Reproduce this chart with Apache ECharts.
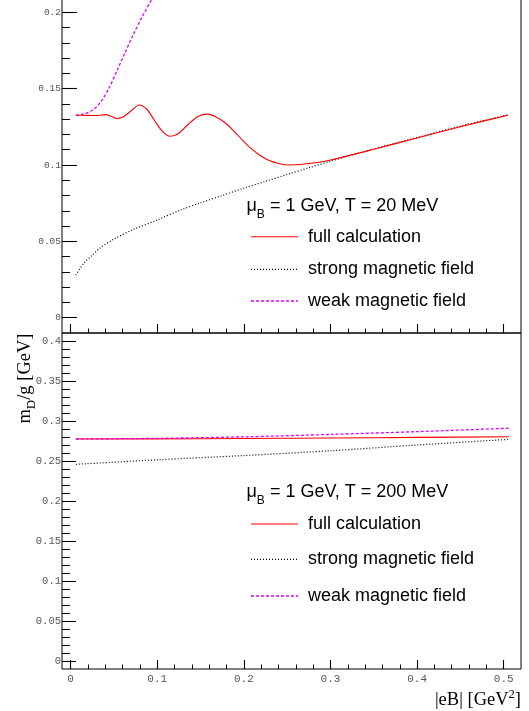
<!DOCTYPE html>
<html>
<head>
<meta charset="utf-8">
<script src="https://cdn.jsdelivr.net/npm/echarts@6/dist/echarts.min.js"></script>
<style>
html,body{margin:0;padding:0;background:#fff;}
#chart{width:529px;height:711px;}
</style>
</head>
<body>
<div id="chart"></div>
<script>
// ---------- data ----------
// top panel: mu_B = 1 GeV, T = 20 MeV
const topFullX   = [0.006, 0.02, 0.032, 0.04, 0.046, 0.053, 0.06, 0.07, 0.079, 0.088, 0.097, 0.106, 0.1146, 0.124, 0.135, 0.147, 0.158, 0.168, 0.178, 0.188, 0.198, 0.208, 0.218, 0.228, 0.24, 0.253, 0.265, 0.28, 0.3, 0.35, 0.4, 0.45, 0.505];
const topFullY   = [0.1326, 0.1325, 0.1324, 0.1330, 0.1321, 0.1304, 0.1312, 0.1355, 0.1393, 0.1365, 0.1290, 0.1220, 0.1188, 0.1205, 0.1262, 0.1318, 0.1333, 0.1315, 0.1278, 0.1225, 0.1165, 0.1110, 0.1065, 0.1032, 0.1010, 0.1000, 0.1003, 0.1013, 0.1033, 0.1103, 0.1177, 0.1251, 0.1326];
const topStrongX = [0.006, 0.015, 0.025, 0.034, 0.05, 0.072, 0.1, 0.126, 0.15, 0.175, 0.2, 0.225, 0.25, 0.275, 0.3, 0.35, 0.4, 0.45, 0.506];
const topStrongY = [0.028, 0.0355, 0.041, 0.0457, 0.0515, 0.0577, 0.064, 0.0703, 0.0752, 0.0800, 0.0848, 0.0893, 0.0938, 0.0982, 0.1025, 0.1105, 0.1180, 0.1255, 0.1330];
const topWeakX   = [0.006, 0.015, 0.025, 0.034, 0.044, 0.0532, 0.0624, 0.0724, 0.083, 0.0935, 0.102];
const topWeakY   = [0.1326, 0.1334, 0.1358, 0.1407, 0.150, 0.1614, 0.1730, 0.1855, 0.1975, 0.2084, 0.2175];
// bottom panel: mu_B = 1 GeV, T = 200 MeV
const botX       = [0.006, 0.1, 0.2, 0.3, 0.4, 0.506];
const botFullY   = [0.2775, 0.2777, 0.2781, 0.2787, 0.2795, 0.2804];
const botStrongY = [0.2458, 0.2515, 0.2568, 0.2628, 0.2700, 0.2771];
const botWeakY   = [0.2775, 0.2783, 0.2802, 0.2832, 0.2867, 0.2910];

const legendLabels = ['full calculation', 'strong magnetic field', 'weak magnetic field'];
const topTitle = ['1 GeV, T = 20 MeV'];
const botTitle = ['1 GeV, T = 200 MeV'];
const xTitle = ['|eB| [GeV', '2', ']'];
const yTitle = ['m', 'D', '/g [GeV]'];

// ---------- layout ----------
const L = 62, W = 459;
const X0 = -0.01, X1 = 0.52;
const pxX = W / (X1 - X0);
const G1T = -3, G1H = 336, Y1a = -0.01, Y1b = 0.21;
const G2T = 333, G2H = 336, Y2a = -0.01, Y2b = 0.41;
const py1 = G1H / (Y1b - Y1a), py2 = G2H / (Y2b - Y2a);

function pairs(xs, ys) { return xs.map((x, i) => [x, ys[i]]); }

const RED = '#ff0000', BLK = '#000000', MAG = '#dd00ff';
const lineFull = { color: RED, width: 1.1, type: 'solid' };
const lineStrong = { color: BLK, width: 1.2, type: [1, 2] };
const lineWeak = { color: MAG, width: 1.3, type: [3, 2] };

const tickLeft = L + (0 - X0) * pxX;
const tickW = 0.5 * pxX;
const MONO = 'Liberation Mono, DejaVu Sans Mono, monospace';

function dummy(gi) { return { gridIndex: gi, type: 'value', min: 0, max: 1, show: false }; }
function dataAxisX(gi) { return { gridIndex: gi, type: 'value', min: X0, max: X1, show: false }; }
function dataAxisY(gi, a, b) { return { gridIndex: gi, type: 'value', min: a, max: b, show: false }; }
function tickAxisX(gi, showLabel) {
  return {
    gridIndex: gi, type: 'value', min: 0, max: 0.5, interval: 0.1, position: 'bottom',
    axisLine: { show: false },
    axisTick: { show: true, inside: true, length: 9, lineStyle: { color: '#000', width: 1.1 } },
    minorTick: { show: true, splitNumber: 5, length: 4.5, lineStyle: { color: '#000', width: 1 } },
    splitLine: { show: false }, minorSplitLine: { show: false },
    axisLabel: { show: showLabel, margin: 5, fontFamily: MONO, fontSize: 11, color: '#555' }
  };
}
function tickAxisY(gi, max, tickLen, fs) {
  return {
    gridIndex: gi, type: 'value', min: 0, max: max, interval: 0.05, position: 'left',
    axisLine: { show: false },
    axisTick: { show: true, inside: true, length: tickLen, lineStyle: { color: '#000', width: 1.1 } },
    minorTick: { show: true, splitNumber: 5, length: 8, lineStyle: { color: '#000', width: 1 } },
    splitLine: { show: false }, minorSplitLine: { show: false },
    axisLabel: { show: true, margin: 1, fontFamily: MONO, fontSize: fs, color: '#555' }
  };
}

const chart = echarts.init(document.getElementById('chart'), null, { renderer: 'canvas' });

function legendBlock(titleY, rowYs, titleText) {
  const els = [];
  els.push({
    type: 'text', x: 246.5, y: titleY,
    style: {
      text: '{mu|μ}{sub|B}{t| = ' + titleText + '}',
      textVerticalAlign: 'middle', textAlign: 'left',
      rich: {
        mu: { fontFamily: 'Liberation Sans, Arial, sans-serif', fontSize: 18, fill: '#000', lineHeight: 22, verticalAlign: 'middle' },
        sub: { fontFamily: 'Liberation Sans, Arial, sans-serif', fontSize: 12, fill: '#000', lineHeight: 10, verticalAlign: 'bottom', padding: [0, 0, -4, 0] },
        t: { fontFamily: 'Liberation Sans, Arial, sans-serif', fontSize: 18, fill: '#000', lineHeight: 22, verticalAlign: 'middle' }
      }
    }
  });
  const styles = [lineFull, lineStrong, lineWeak];
  rowYs.forEach((yy, i) => {
    const s = styles[i];
    els.push({
      type: 'line', shape: { x1: 251, y1: yy, x2: 298, y2: yy },
      style: { stroke: s.color, lineWidth: s.width, lineDash: s.type === 'solid' ? null : s.type }
    });
    els.push({
      type: 'text', x: 308, y: yy,
      style: { text: legendLabels[i], font: '18px "Liberation Sans", Arial, sans-serif', fill: '#000', textVerticalAlign: 'middle', textAlign: 'left' }
    });
  });
  return els;
}

const graphics = []
  .concat(legendBlock(206, [236.7, 269.3, 301], topTitle[0]))
  .concat(legendBlock(492, [524, 559.3, 596], botTitle[0]));

graphics.push({
  type: 'text', x: 521, y: 699,
  style: {
    text: '{a|' + xTitle[0] + '}{s|' + xTitle[1] + '}{a|' + xTitle[2] + '}',
    textAlign: 'right', textVerticalAlign: 'middle',
    rich: {
      a: { fontFamily: 'Liberation Serif, Times New Roman, serif', fontSize: 18.5, fill: '#000', lineHeight: 22, verticalAlign: 'bottom' },
      s: { fontFamily: 'Liberation Serif, Times New Roman, serif', fontSize: 12.5, fill: '#000', lineHeight: 12, verticalAlign: 'top' }
    }
  }
});
graphics.push({
  type: 'text', x: 27, y: 333.5, rotation: Math.PI / 2,
  style: {
    text: '{a|' + yTitle[0] + '}{s|' + yTitle[1] + '}{a|' + yTitle[2] + '}',
    textAlign: 'right', textVerticalAlign: 'middle',
    rich: {
      a: { fontFamily: 'Liberation Serif, Times New Roman, serif', fontSize: 18.5, fill: '#000', lineHeight: 22, verticalAlign: 'top' },
      s: { fontFamily: 'Liberation Serif, Times New Roman, serif', fontSize: 13, fill: '#000', lineHeight: 12, verticalAlign: 'bottom' }
    }
  }
});

const gBase = { containLabel: false, outerBoundsMode: 'none' };
const option = {
  animation: false,
  backgroundColor: '#ffffff',
  grid: [
    Object.assign({ left: L, top: G1T, width: W, height: G1H, show: true, borderColor: '#000', borderWidth: 1, backgroundColor: 'transparent' }, gBase),
    Object.assign({ left: L, top: G2T, width: W, height: G2H, show: true, borderColor: '#000', borderWidth: 1, backgroundColor: 'transparent' }, gBase),
    // y ticks, top panel
    Object.assign({ left: L, top: G1T + (Y1b - 0.2) * py1, width: W, height: 0.2 * py1 }, gBase),
    // x ticks, top panel
    Object.assign({ left: tickLeft, top: G1T, width: tickW, height: G1H }, gBase),
    // y ticks, bottom panel
    Object.assign({ left: L, top: G2T + (Y2b - 0.4) * py2, width: W, height: 0.4 * py2 }, gBase),
    // x ticks, bottom panel
    Object.assign({ left: tickLeft, top: G2T, width: tickW, height: G2H }, gBase)
  ],
  xAxis: [
    dataAxisX(0), dataAxisX(1),
    dummy(2), tickAxisX(3, false),
    dummy(4), tickAxisX(5, true)
  ],
  yAxis: [
    dataAxisY(0, Y1a, Y1b), dataAxisY(1, Y2a, Y2b),
    tickAxisY(2, 0.2, 15, 9.5), dummy(3),
    tickAxisY(4, 0.4, 14, 10.5), dummy(5)
  ],
  series: [
    { type: 'line', xAxisIndex: 0, yAxisIndex: 0, data: pairs(topStrongX, topStrongY), showSymbol: false, symbol: 'none', smooth: 0.3, lineStyle: lineStrong, clip: true, z: 3 },
    { type: 'line', xAxisIndex: 0, yAxisIndex: 0, data: pairs(topWeakX, topWeakY), showSymbol: false, symbol: 'none', smooth: 0.3, lineStyle: lineWeak, clip: true, z: 4 },
    { type: 'line', xAxisIndex: 0, yAxisIndex: 0, data: pairs(topFullX, topFullY), showSymbol: false, symbol: 'none', smooth: 0.3, lineStyle: lineFull, clip: true, z: 5 },
    { type: 'line', xAxisIndex: 1, yAxisIndex: 1, data: pairs(botX, botStrongY), showSymbol: false, symbol: 'none', smooth: 0.3, lineStyle: lineStrong, clip: true, z: 3 },
    { type: 'line', xAxisIndex: 1, yAxisIndex: 1, data: pairs(botX, botFullY), showSymbol: false, symbol: 'none', smooth: 0.3, lineStyle: lineFull, clip: true, z: 4 },
    { type: 'line', xAxisIndex: 1, yAxisIndex: 1, data: pairs(botX, botWeakY), showSymbol: false, symbol: 'none', smooth: 0.3, lineStyle: lineWeak, clip: true, z: 5 }
  ],
  graphic: graphics
};
chart.setOption(option);
</script>
</body>
</html>
